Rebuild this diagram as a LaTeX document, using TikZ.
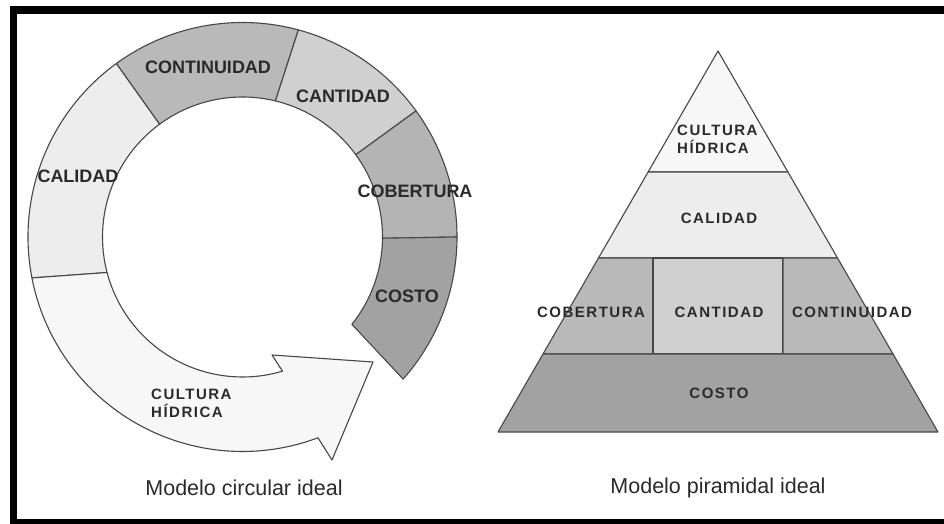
\documentclass[tikz,border=0pt]{standalone}
\usepackage{fontspec}
\setmainfont{Liberation Sans}
\newfontfamily\spacedfont[LetterSpace=10]{Liberation Sans Bold}
\usetikzlibrary{calc,positioning}

\definecolor{edgegray}{HTML}{474747}
\definecolor{inkgray}{HTML}{2A2A2A}
\definecolor{culturagray}{HTML}{F7F7F7}
\definecolor{calidadgray}{HTML}{EDEDED}
\definecolor{contgray}{HTML}{B9B9B9}
\definecolor{cantgray}{HTML}{D0D0D0}
\definecolor{cobgray}{HTML}{B4B4B4}
\definecolor{costogray}{HTML}{A2A2A2}

\begin{document}
\begin{tikzpicture}
		[x=1pt,y=1pt,
		part/.style={draw=edgegray,line width=1.1pt,line join=round},
		ringlabel/.style={text=inkgray,font=\fontsize{18}{20}\selectfont\bfseries,inner sep=0pt},
		pyrlabel/.style={text=inkgray,font=\fontsize{15}{18}\selectfont\spacedfont,inner sep=0pt,align=left},
		caption/.style={text=inkgray,font=\fontsize{21.5}{24}\selectfont,inner sep=0pt}]
		\clip (0,0) rectangle (944,524);
		\fill[white] (0,0) rectangle (944,524);
		\draw[line width=7.5pt] (13.5,1.5) rectangle (960,514);

		% ring
		\coordinate (C) at (242.5,287);
		\def\rout{214.5pt}
		\def\rin{140pt}
		\foreach \ao/\bo/\ai/\bi/\tone in {126/191/126.3/194.7/calidadgray,
			74.9/126/76.4/126.3/contgray,
			36/74.9/36/76.4/cantgray,
			0/36/-0.5/36/cobgray,
			-41.5/0/-38.6/-0.5/costogray}
		{
			\filldraw[part,fill=\tone] ($(C)+(\ao:\rout)$) arc[start angle=\ao,end angle=\bo,radius=\rout]
				-- ($(C)+(\bi:\rin)$) arc[start angle=\bi,end angle=\ai,radius=\rin] -- cycle;
		}
		\coordinate (barbout) at (332,64);
		\coordinate (tip) at (373,162);
		\coordinate (barbin) at (272,169);
		\filldraw[part,fill=culturagray] ($(C)+(191:\rout)$) arc[start angle=191,end angle=290.6,radius=\rout]
			-- (barbout) -- (tip) -- (barbin)
			-- ($(C)+(286.6:\rin)$) arc[start angle=286.6,end angle=194.7,radius=\rin] -- cycle;

		\node[ringlabel] (continuidad) at (208,457) {CONTINUIDAD};
		\node[ringlabel] (cantidad) at (343,428) {CANTIDAD};
		\node[ringlabel] (calidad) at (78,348) {CALIDAD};
		\node[ringlabel] (cobertura) at (415,333) {COBERTURA};
		\node[ringlabel] (costo) at (407,228) {COSTO};
		\node[pyrlabel,anchor=west] (cultura) at (151,120.5) {CULTURA\\HÍDRICA};
		\node[caption] (circular) at (244,36) {Modelo circular ideal};

		% pyramid
		\coordinate (apex) at (718,473);
		\coordinate (l1) at (648.1,352);
		\coordinate (r1) at (787.9,352);
		\coordinate (l2) at (598.5,266);
		\coordinate (r2) at (837.5,266);
		\coordinate (l3) at (543,170);
		\coordinate (r3) at (893,170);
		\coordinate (bl) at (498,92);
		\coordinate (br) at (938,92);
		\filldraw[part,fill=culturagray] (apex) -- (l1) -- (r1) -- cycle;
		\filldraw[part,fill=calidadgray] (l1) -- (l2) -- (r2) -- (r1) -- cycle;
		\filldraw[part,fill=contgray] (l2) -- (l3) -- (653,170) -- (653,266) -- cycle;
		\filldraw[part,fill=cantgray] (653,170) rectangle (783,266);
		\filldraw[part,fill=contgray] (783,266) -- (783,170) -- (r3) -- (r2) -- cycle;
		\filldraw[part,fill=costogray] (l3) -- (bl) -- (br) -- (r3) -- cycle;

		\node[pyrlabel,anchor=west] (pcultura) at (677,385) {CULTURA\\HÍDRICA};
		\node[pyrlabel] (pcalidad) at (719,306) {CALIDAD};
		\node[pyrlabel] (pcobertura) at (591,212) {COBERTURA};
		\node[pyrlabel] (pcantidad) at (719,212) {CANTIDAD};
		\node[pyrlabel] (pcontinuidad) at (852,212) {CONTINUIDAD};
		\node[pyrlabel] (pcosto) at (719,131) {COSTO};
		\node[caption] (piramidal) at (718,36) {Modelo piramidal ideal};
\end{tikzpicture}
\end{document}
